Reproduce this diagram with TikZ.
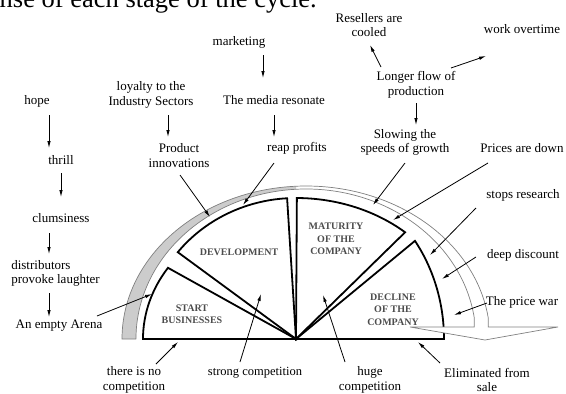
\documentclass[tikz,border=0pt]{standalone}
\usepackage{fontspec}
\setmainfont{Liberation Serif}
\usetikzlibrary{arrows.meta}
\tikzset{%
  >={Latex[length=7pt,width=3.5pt]}, % slim filled tips
  lbl/.style={font=\fontsize{13}{14.5}\selectfont,align=center,inner sep=1pt},%
  stage text/.style={font=\fontsize{10}{12.3}\selectfont\bfseries,text=black!70,
    align=center,inner sep=0pt},%
  stage edge/.style={draw=black,line width=1.8pt},%
  pointer/.style={->,line width=0.8pt},%
  band edge/.style={draw=gray,line width=0.7pt}%
}

\begin{document}
\begin{tikzpicture}[x=1pt,y=-1pt] % pixel units, y runs downwards

%% page frame

\useasboundingbox (0,0) rectangle (566,394);
\clip (0,0) rectangle (566,394);

%% caption line, cut by the top edge

\node[anchor=base west,inner sep=0pt,font=\fontsize{26.5}{30}\selectfont]
  (caption) at (-0.5,7.3) {nse of each stage of the cycle.};

%% some definitions

\coordinate (P) at (296,339); % pivot of the four stages
\def\bandpath{(136,339) -- (122,339)
  arc[start angle=-180,end angle=-7.9,x radius=184,y radius=153]
  -- (488.3,327) -- (558,327) -- (485,340) -- (410,327) -- (474.3,327)
  -- (474.3,318) arc[start angle=-8.05,end angle=-180,x radius=170,y radius=150]
  -- cycle}

%% the four stages

\draw[stage edge] (P) -- ++(-180:153 and 130)
  arc[start angle=-180,end angle=-146.8,x radius=153,y radius=130] -- cycle;
\draw[stage edge] (P) -- ++(-142:150 and 141)
  arc[start angle=-142,end angle=-93.4,x radius=150,y radius=141] -- cycle;
\draw[stage edge] (P) -- ++(-89.7:167 and 141)
  arc[start angle=-89.7,end angle=-49.2,x radius=167,y radius=141] -- cycle;
\draw[stage edge] (P) -- ++(-36.5:148 and 165)
  arc[start angle=-36.5,end angle=0,x radius=148,y radius=165] -- cycle;

%% hollow band arrow round the stages

\fill[white] \bandpath;
\begin{scope}
  \clip (0,0) rectangle (296,394);
  \fill[gray!40] \bandpath;
\end{scope}
\draw[band edge] \bandpath;

%% stage names

\node[stage text] (start) at (192,314.5) {START\\BUSINESSES};
\node[stage text] (develop) at (239,252) {DEVELOPMENT};
\node[stage text] (mature) at (336,239) {MATURITY\\OF THE\\COMPANY};
\node[stage text] (decline) at (393,309.5) {DECLINE\\OF THE\\COMPANY};

%% labels

\node[lbl] (hope) at (37,101) {hope};
\node[lbl] (thrill) at (61,160) {thrill};
\node[lbl] (clumsy) at (61,218) {clumsiness};
\node[lbl,align=left] (distrib) at (55.5,273.5) {distributors\\provoke laughter};
\node[lbl] (arena) at (59,326) {An empty Arena};
\node[lbl] (loyalty) at (151,95) {loyalty to the\\Industry Sectors};
\node[lbl] (product) at (179,155.5) {Product\\innovations};
\node[lbl] (marketing) at (239,42) {marketing};
\node[lbl] (media) at (274,100) {The media resonate};
\node[lbl] (reap) at (297,148) {reap profits};
\node[lbl] (resellers) at (369,25) {Resellers are\\cooled};
\node[lbl] (overtime) at (522,29) {work overtime};
\node[lbl] (longer) at (416,85) {Longer flow of\\production};
\node[lbl] (slowing) at (405,142.5) {Slowing the\\speeds of growth};
\node[lbl] (prices) at (522,148) {Prices are down};
\node[lbl] (stops) at (523,195) {stops research};
\node[lbl] (deep) at (523,255) {deep discount};
\node[lbl] (pricewar) at (522,302) {The price war};
\node[lbl] (elim) at (487,380) {Eliminated from\\sale};
\node[lbl] (huge) at (370,380) {huge\\competition};
\node[lbl,font=\fontsize{12.5}{14}\selectfont] (strong) at (255,373) {strong competition};
\node[lbl] (nocomp) at (134,380) {there is no\\competition};

%% where the pointers land

\coordinate (tArena) at (152,294);
\coordinate (tNoComp) at (178,342);
\coordinate (tStrong) at (261,294);
\coordinate (tHuge) at (323,295);
\coordinate (tElim) at (418,342);
\coordinate (tWar) at (454,315);
\coordinate (tDeep) at (442,279);
\coordinate (tStops) at (430,255);
\coordinate (tPrices) at (393,220);
\coordinate (tSlow) at (373,205);
\coordinate (tReap) at (243,205);
\coordinate (tProduct) at (210,217);

%% pointers

\draw[pointer] ([shift={(12,14)}]hope.center) -- ([shift={(-12,-12)}]thrill.center);
\draw[pointer] ([shift={(0,13)}]thrill.center) -- ([shift={(0,-21)}]clumsy.center);
\draw[pointer] ([shift={(-12,15)}]clumsy.center) -- ([shift={(-6.5,-19.5)}]distrib.center);
\draw[pointer] ([shift={(-6.5,19.5)}]distrib.center) -- ([shift={(-10,-9)}]arena.center);
\draw[pointer] ([shift={(38,-10)}]arena.center) -- (tArena);
\draw[pointer] ([shift={(22,-16)}]nocomp.center) -- (tNoComp);
\draw[pointer] ([shift={(-15,-11)}]strong.center) -- (tStrong);
\draw[pointer] ([shift={(-25,-18)}]huge.center) -- (tHuge);
\draw[pointer] ([shift={(-47,-17)}]elim.center) -- (tElim);
\draw[pointer] ([shift={(-35,1)}]pricewar.center) -- (tWar);
\draw[pointer] ([shift={(-47,2)}]deep.center) -- (tDeep);
\draw[pointer] ([shift={(-47,13)}]stops.center) -- (tStops);
\draw[pointer] ([shift={(-34,15)}]prices.center) -- (tPrices);
\draw[pointer] ([shift={(0,20.5)}]slowing.center) -- (tSlow);
\draw[pointer] ([shift={(0,18)}]longer.center) -- ([shift={(11,-17.5)}]slowing.center);
\draw[pointer] ([shift={(-35,-18)}]longer.center) -- ([shift={(1,20)}]resellers.center);
\draw[pointer] ([shift={(35,-17)}]longer.center) -- ([shift={(-36,27)}]overtime.center);
\draw[pointer] ([shift={(24,13)}]marketing.center) -- ([shift={(-11,-22)}]media.center);
\draw[pointer] ([shift={(0,15)}]media.center) -- ([shift={(-23,-11)}]reap.center);
\draw[pointer] ([shift={(-23,15)}]reap.center) -- (tReap);
\draw[pointer] ([shift={(17,20)}]loyalty.center) -- ([shift={(-11,-18.5)}]product.center);
\draw[pointer] ([shift={(1,19.5)}]product.center) -- (tProduct);

\end{tikzpicture}
\end{document}
